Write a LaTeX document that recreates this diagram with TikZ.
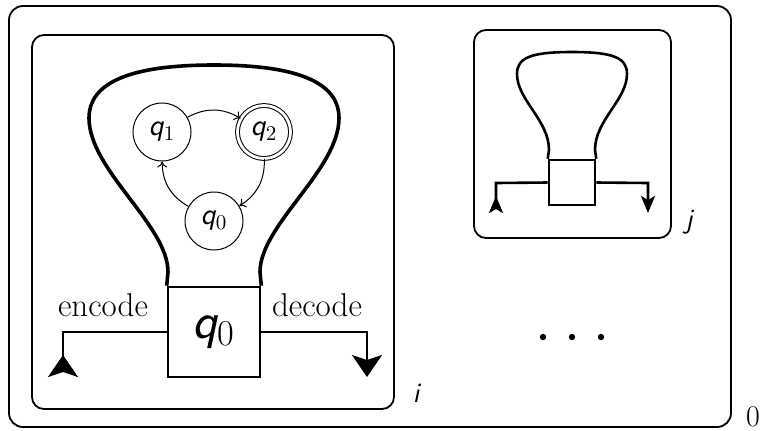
\documentclass[tikz,border=0pt]{standalone}
\usetikzlibrary{arrows.meta}
\newcommand\qsym[1]{{\sffamily\itshape q}\textsubscript{#1}}
\begin{document}
\begin{tikzpicture}[x=0.5pt,y=-0.5pt,
  frame/.style={draw,line width=0.9pt,rounded corners=7pt,inner sep=0pt},
  bulb/.style={line width=1.8pt,line join=round},
  smallbulb/.style={line width=1.3pt,line join=round},
  core/.style={draw,line width=1.3pt,inner sep=0pt},
  wire/.style={line width=1.3pt,line join=miter},
  state/.style={draw,circle,line width=0.5pt,minimum size=29pt,inner sep=0pt,
    font=\fontsize{15}{17}\selectfont},
  trans/.style={-{To[length=3pt,width=5pt]},line width=0.5pt,bend left=30},
  dot/.style={circle,fill,inner sep=0pt,minimum size=3.2pt},
  bigtip/.tip={Stealth[length=11pt,width=15pt,inset=2.5pt]},
  smalltip/.tip={Stealth[length=8.5pt,width=7pt,inset=2pt]},
]
\useasboundingbox (0,0) rectangle (762,430);

% frames
\node[frame,minimum width=361pt,minimum height=210.5pt] (outer) at (370,216.5) {};
\node[frame,rounded corners=6pt,minimum width=181pt,minimum height=187pt] (boxi) at (213,222) {};
\node[frame,rounded corners=6pt,minimum width=98.5pt,minimum height=104pt] (boxj) at (572.5,134) {};

% frame labels
\node[font=\fontsize{15}{17}\selectfont,inner sep=0pt] (lab0) at (753,417) {0};
\node[font=\sffamily\itshape\fontsize{14}{16}\selectfont] (labi) at (416,393) {i};
\node[font=\sffamily\itshape\fontsize{14}{16}\selectfont] (labj) at (689,222) {j};

% large machine
\node[core,minimum width=46pt,minimum height=45pt,font=\fontsize{26}{28}\selectfont] (q) at (214,332) {\qsym{0}};
\draw[bulb] (q.north west) -- (168,272)
  .. controls (168,225) and (89,170) .. (89,118)
  .. controls (89,75) and (150,65) .. (214,65)
  .. controls (278,65) and (339,75) .. (339,118)
  .. controls (339,170) and (260,225) .. (260,272) -- (q.north east);

\coordinate (encCorner) at (63,332);
\coordinate (encEnd) at (63,377);
\coordinate (decCorner) at (367,332);
\coordinate (decEnd) at (367,377);
\draw[wire,-{bigtip[reversed]}] (q.west) -- (encCorner) -- (encEnd);
\draw[wire,-{bigtip}] (q.east) -- (decCorner) -- (decEnd);
\node[font=\fontsize{16.5}{18}\selectfont,anchor=base] (enc) at (103,316) {encode};
\node[font=\fontsize{16.5}{18}\selectfont,anchor=base] (dec) at (317,316) {decode};

% automaton inside the bulb
\node[state] (s1) at (162,132) {\qsym{1}};
\node[state,double,double distance=1.4pt,minimum size=26.5pt] (s2) at (264,132) {\qsym{2}};
\node[state] (s0) at (214,221) {\qsym{0}};
\draw[trans] (s1) to (s2);
\draw[trans] (s2) to (s0);
\draw[trans] (s0) to (s1);

% small machine
\node[core,minimum width=23pt,minimum height=22.5pt] (qj) at (572,182.5) {};
\draw[smallbulb] (qj.north west) -- (549,150)
  .. controls (549,120) and (517,100) .. (517,74)
  .. controls (517,58) and (530,52) .. (572,52)
  .. controls (614,52) and (627,58) .. (627,74)
  .. controls (627,100) and (595,120) .. (595,150) -- (qj.north east);
\coordinate (jlCorner) at (496,183);
\coordinate (jlEnd) at (496,213);
\coordinate (jrCorner) at (648,183);
\coordinate (jrEnd) at (648,213);
\draw[wire,-{smalltip[reversed]}] (qj.west) -- (jlCorner) -- (jlEnd);
\draw[wire,-{smalltip}] (qj.east) -- (jrCorner) -- (jrEnd);

% ellipsis
\node[dot] (d1) at (543,337) {};
\node[dot] (d2) at (572,337) {};
\node[dot] (d3) at (601,337) {};
\end{tikzpicture}
\end{document}
